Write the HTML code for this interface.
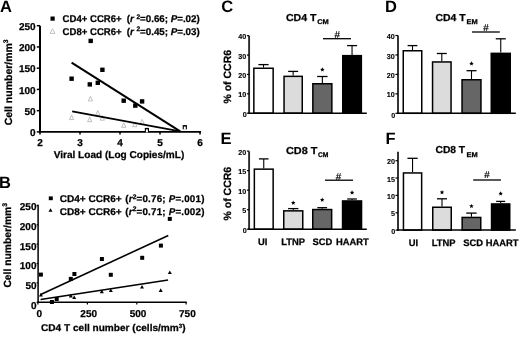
<!DOCTYPE html>
<html><head><meta charset="utf-8"><style>
html,body{margin:0;padding:0;background:#fff;}
svg{display:block;will-change:transform;}
text{font-family:"Liberation Sans",sans-serif;stroke:#000;stroke-width:0.25px;}
</style></head><body>
<svg width="520" height="337" viewBox="0 0 520 337" font-family="Liberation Sans, sans-serif" text-rendering="geometricPrecision" fill="#000">
<rect x="0" y="0" width="520" height="337" fill="#fff"/>
<text x="-0.1" y="11.6" font-size="16.5" font-weight="bold" text-anchor="start" style="stroke:none">A</text>
<text x="-1.1" y="187.8" font-size="16.5" font-weight="bold" text-anchor="start" style="stroke:none">B</text>
<text x="221.3" y="11.7" font-size="16.5" font-weight="bold" text-anchor="start" style="stroke:none">C</text>
<text x="385.0" y="11.7" font-size="16.5" font-weight="bold" text-anchor="start" style="stroke:none">D</text>
<text x="220.4" y="144.3" font-size="16.5" font-weight="bold" text-anchor="start" style="stroke:none">E</text>
<text x="385.6" y="144.2" font-size="16.5" font-weight="bold" text-anchor="start" style="stroke:none">F</text>
<line x1="40" y1="25.7" x2="40" y2="132.8" stroke="#000" stroke-width="2"/>
<line x1="36.8" y1="131.9" x2="40" y2="131.9" stroke="#000" stroke-width="1.5"/>
<text x="35.6" y="136.1" font-size="10" font-weight="bold" text-anchor="end" >0</text>
<line x1="36.8" y1="110.66" x2="40" y2="110.66" stroke="#000" stroke-width="1.5"/>
<text x="35.6" y="114.86" font-size="10" font-weight="bold" text-anchor="end" >50</text>
<line x1="36.8" y1="89.42" x2="40" y2="89.42" stroke="#000" stroke-width="1.5"/>
<text x="35.6" y="93.62" font-size="10" font-weight="bold" text-anchor="end" >100</text>
<line x1="36.8" y1="68.18" x2="40" y2="68.18" stroke="#000" stroke-width="1.5"/>
<text x="35.6" y="72.38" font-size="10" font-weight="bold" text-anchor="end" >150</text>
<line x1="36.8" y1="46.94" x2="40" y2="46.94" stroke="#000" stroke-width="1.5"/>
<text x="35.6" y="51.14" font-size="10" font-weight="bold" text-anchor="end" >200</text>
<line x1="36.8" y1="25.700000000000003" x2="40" y2="25.700000000000003" stroke="#000" stroke-width="1.5"/>
<text x="35.6" y="29.9" font-size="10" font-weight="bold" text-anchor="end" >250</text>
<line x1="39" y1="131.9" x2="201" y2="131.9" stroke="#000" stroke-width="1.8"/>
<line x1="40" y1="131.9" x2="40" y2="134.6" stroke="#000" stroke-width="1.5"/>
<text x="40" y="145.8" font-size="10" font-weight="bold" text-anchor="middle" >2</text>
<line x1="80" y1="131.9" x2="80" y2="134.6" stroke="#000" stroke-width="1.5"/>
<text x="80" y="145.8" font-size="10" font-weight="bold" text-anchor="middle" >3</text>
<line x1="120" y1="131.9" x2="120" y2="134.6" stroke="#000" stroke-width="1.5"/>
<text x="120" y="145.8" font-size="10" font-weight="bold" text-anchor="middle" >4</text>
<line x1="160" y1="131.9" x2="160" y2="134.6" stroke="#000" stroke-width="1.5"/>
<text x="160" y="145.8" font-size="10" font-weight="bold" text-anchor="middle" >5</text>
<line x1="200" y1="131.9" x2="200" y2="134.6" stroke="#000" stroke-width="1.5"/>
<text x="200" y="145.8" font-size="10" font-weight="bold" text-anchor="middle" >6</text>
<text x="53.70" y="157.7" font-size="10" font-weight="bold" textLength="130.60" lengthAdjust="spacingAndGlyphs">Viral Load (Log Copies/mL)</text>
<text transform="translate(11.6,82.3) rotate(-90)" font-size="10.4" font-weight="bold" text-anchor="middle" textLength="86" lengthAdjust="spacingAndGlyphs">Cell number/mm<tspan font-size="6.8" dy="-3.6">3</tspan></text>
<rect x="50.5" y="16.5" width="4.2" height="4.2" fill="#000"/>
<polygon points="52.5,28.8 55,33.4 50,33.4" fill="#fff" stroke="#bbb" stroke-width="0.9"/>
<text x="62.60" y="22.3" font-size="9.8" font-weight="bold" textLength="59.00" lengthAdjust="spacingAndGlyphs">CD4+ CCR6+</text>
<text x="62.60" y="34.6" font-size="9.8" font-weight="bold" textLength="59.00" lengthAdjust="spacingAndGlyphs">CD8+ CCR6+</text>
<text x="126.70" y="22.3" font-size="9.8" font-weight="bold" textLength="73.00" lengthAdjust="spacing">(<tspan font-style="italic">r</tspan> <tspan font-size="6.66" dy="-3.8">2</tspan><tspan dy="3.8">=0.66; </tspan><tspan font-style="italic">P</tspan>=.02)</text>
<text x="126.70" y="34.6" font-size="9.8" font-weight="bold" textLength="73.00" lengthAdjust="spacing">(<tspan font-style="italic">r</tspan> <tspan font-size="6.66" dy="-3.8">2</tspan><tspan dy="3.8">=0.45; </tspan><tspan font-style="italic">P</tspan>=.03)</text>
<polygon points="71.6,115.00 73.75,119.60 69.45,119.60" fill="#fff" stroke="#b8b8b8" stroke-width="0.9"/>
<polygon points="90.4,96.30 92.55,100.90 88.25,100.90" fill="#fff" stroke="#b8b8b8" stroke-width="0.9"/>
<polygon points="89.7,117.10 91.85,121.70 87.55,121.70" fill="#fff" stroke="#b8b8b8" stroke-width="0.9"/>
<polygon points="97.8,110.60 99.95,115.20 95.65,115.20" fill="#fff" stroke="#b8b8b8" stroke-width="0.9"/>
<polygon points="102.3,115.60 104.45,120.20 100.15,120.20" fill="#fff" stroke="#b8b8b8" stroke-width="0.9"/>
<polygon points="123.8,122.70 125.95,127.30 121.65,127.30" fill="#fff" stroke="#b8b8b8" stroke-width="0.9"/>
<polygon points="134.8,122.10 136.95,126.70 132.65,126.70" fill="#fff" stroke="#b8b8b8" stroke-width="0.9"/>
<polygon points="142.2,119.40 144.35,124.00 140.05,124.00" fill="#fff" stroke="#b8b8b8" stroke-width="0.9"/>
<rect x="88.5" y="38.7" width="4.4" height="4.4" fill="#000"/>
<rect x="100.2" y="67.6" width="4.4" height="4.4" fill="#000"/>
<rect x="69.4" y="76.5" width="4.4" height="4.4" fill="#000"/>
<rect x="87.6" y="82.2" width="4.4" height="4.4" fill="#000"/>
<rect x="95.6" y="80.6" width="4.4" height="4.4" fill="#000"/>
<rect x="121.5" y="98.5" width="4.4" height="4.4" fill="#000"/>
<rect x="133.1" y="103.4" width="4.4" height="4.4" fill="#000"/>
<rect x="139.9" y="99.2" width="4.4" height="4.4" fill="#000"/>
<rect x="144.8" y="127.9" width="4.2" height="4.2" fill="#000"/>
<rect x="145.9" y="129.4" width="2.0" height="3.0" fill="#fff"/>
<rect x="182.7" y="125.1" width="4.2" height="4.2" fill="#000"/>
<rect x="183.8" y="126.6" width="2.0" height="3.0" fill="#fff"/>
<line x1="71.6" y1="62.6" x2="180.2" y2="131.4" stroke="#000" stroke-width="2.0"/>
<line x1="72.2" y1="111.4" x2="180.2" y2="131.4" stroke="#000" stroke-width="1.7"/>
<line x1="38.1" y1="204.7" x2="38.1" y2="303.0" stroke="#000" stroke-width="1.5"/>
<line x1="36.6" y1="302.3" x2="38.1" y2="302.3" stroke="#000" stroke-width="1.2"/>
<text x="36.5" y="309.2" font-size="10" font-weight="bold" text-anchor="end" >0</text>
<line x1="36.6" y1="282.92" x2="38.1" y2="282.92" stroke="#000" stroke-width="1.2"/>
<text x="36.5" y="289.32" font-size="10" font-weight="bold" text-anchor="end" >50</text>
<line x1="36.6" y1="263.54" x2="38.1" y2="263.54" stroke="#000" stroke-width="1.2"/>
<text x="36.5" y="269.45" font-size="10" font-weight="bold" text-anchor="end" >100</text>
<line x1="36.6" y1="244.16000000000003" x2="38.1" y2="244.16000000000003" stroke="#000" stroke-width="1.2"/>
<text x="36.5" y="249.57" font-size="10" font-weight="bold" text-anchor="end" >150</text>
<line x1="36.6" y1="224.78000000000003" x2="38.1" y2="224.78000000000003" stroke="#000" stroke-width="1.2"/>
<text x="36.5" y="229.7" font-size="10" font-weight="bold" text-anchor="end" >200</text>
<line x1="36.6" y1="205.4" x2="38.1" y2="205.4" stroke="#000" stroke-width="1.2"/>
<text x="36.5" y="209.82" font-size="10" font-weight="bold" text-anchor="end" >250</text>
<line x1="37.4" y1="302.3" x2="186.8" y2="302.3" stroke="#000" stroke-width="1.6"/>
<line x1="37.9" y1="302.3" x2="37.9" y2="304.4" stroke="#000" stroke-width="1.2"/>
<text x="39.199999999999996" y="316.9" font-size="10" font-weight="bold" text-anchor="middle" >0</text>
<line x1="87.4" y1="302.3" x2="87.4" y2="304.4" stroke="#000" stroke-width="1.2"/>
<text x="88.7" y="316.9" font-size="10" font-weight="bold" text-anchor="middle" >250</text>
<line x1="136.8" y1="302.3" x2="136.8" y2="304.4" stroke="#000" stroke-width="1.2"/>
<text x="138.10000000000002" y="316.9" font-size="10" font-weight="bold" text-anchor="middle" >500</text>
<line x1="186.1" y1="302.3" x2="186.1" y2="304.4" stroke="#000" stroke-width="1.2"/>
<text x="187.4" y="316.9" font-size="10" font-weight="bold" text-anchor="middle" >750</text>
<text x="41.0" y="331.1" font-size="9.8" font-weight="bold" textLength="144.6" lengthAdjust="spacingAndGlyphs">CD4 T cell number (cells/mm<tspan font-size="6" dy="-3.6">3</tspan><tspan dy="3.6">)</tspan></text>
<text transform="translate(11.0,245.3) rotate(-90)" font-size="10.4" font-weight="bold" text-anchor="middle" textLength="84.6" lengthAdjust="spacingAndGlyphs">Cell number/mm<tspan font-size="6.8" dy="-3.6">3</tspan></text>
<rect x="48.8" y="196.4" width="4.0" height="3.8" fill="#000"/>
<polygon points="50.5,208.20 52.50,211.80 48.50,211.80" fill="#000"/>
<text x="59.80" y="202.4" font-size="9.8" font-weight="bold" textLength="61.90" lengthAdjust="spacingAndGlyphs">CD4+ CCR6+</text>
<text x="59.80" y="214.5" font-size="9.8" font-weight="bold" textLength="61.90" lengthAdjust="spacingAndGlyphs">CD8+ CCR6+</text>
<text x="125.20" y="202.4" font-size="9.8" font-weight="bold" textLength="79.20" lengthAdjust="spacing">(<tspan font-style="italic">r</tspan><tspan font-size="6.66" dy="-3.4">2</tspan><tspan dy="3.4">=0.76; </tspan><tspan font-style="italic">P</tspan>=.001)</text>
<text x="125.20" y="214.5" font-size="9.8" font-weight="bold" textLength="79.20" lengthAdjust="spacing">(<tspan font-style="italic">r</tspan><tspan font-size="6.66" dy="-3.4">2</tspan><tspan dy="3.4">=0.71; </tspan><tspan font-style="italic">P</tspan>=.002)</text>
<line x1="40.2" y1="294.7" x2="168.3" y2="235.5" stroke="#000" stroke-width="1.6"/>
<line x1="40.6" y1="299.5" x2="168.1" y2="280.0" stroke="#000" stroke-width="1.6"/>
<rect x="38.9" y="272.6" width="4.0" height="4.0" fill="#000"/>
<rect x="68.8" y="276.9" width="4.0" height="4.0" fill="#000"/>
<rect x="72.4" y="272.0" width="4.0" height="4.0" fill="#000"/>
<rect x="99.9" y="257.0" width="4.0" height="4.0" fill="#000"/>
<rect x="108.8" y="272.8" width="4.0" height="4.0" fill="#000"/>
<rect x="54.7" y="297.0" width="4.0" height="4.0" fill="#000"/>
<rect x="49.9" y="300.0" width="4.0" height="4.0" fill="#000"/>
<rect x="140.2" y="255.8" width="4.0" height="4.0" fill="#000"/>
<rect x="158.9" y="243.6" width="4.0" height="4.0" fill="#000"/>
<rect x="167.8" y="216.9" width="4.0" height="4.0" fill="#000"/>
<polygon points="40.9,293.00 42.90,296.60 38.90,296.60" fill="#000"/>
<polygon points="70.8,293.80 72.80,297.40 68.80,297.40" fill="#000"/>
<polygon points="74.2,295.40 76.20,299.00 72.20,299.00" fill="#000"/>
<polygon points="101.8,289.60 103.80,293.20 99.80,293.20" fill="#000"/>
<polygon points="110.8,288.40 112.80,292.00 108.80,292.00" fill="#000"/>
<polygon points="142.0,284.90 144.00,288.50 140.00,288.50" fill="#000"/>
<polygon points="160.7,288.30 162.70,291.90 158.70,291.90" fill="#000"/>
<polygon points="169.8,270.50 171.80,274.10 167.80,274.10" fill="#000"/>
<line x1="263.5" y1="67.5" x2="263.5" y2="64.6" stroke="#000" stroke-width="1.1"/>
<line x1="258.4" y1="64.6" x2="268.6" y2="64.6" stroke="#000" stroke-width="1.3"/>
<rect x="253.85" y="68.25" width="19.299999999999983" height="44.95" fill="#fff" stroke="#000" stroke-width="1.5"/>
<line x1="293.15" y1="75.6" x2="293.15" y2="71.4" stroke="#000" stroke-width="1.1"/>
<line x1="288.15" y1="71.4" x2="298.15" y2="71.4" stroke="#000" stroke-width="1.3"/>
<rect x="284.05" y="76.35" width="18.19999999999999" height="36.85000000000001" fill="#dcdcdc" stroke="#000" stroke-width="1.5"/>
<line x1="322.35" y1="83.0" x2="322.35" y2="76.5" stroke="#000" stroke-width="1.1"/>
<line x1="317.15000000000003" y1="76.5" x2="327.55" y2="76.5" stroke="#000" stroke-width="1.3"/>
<rect x="312.85" y="83.75" width="19.0" height="29.450000000000003" fill="#666666" stroke="#000" stroke-width="1.5"/>
<polygon points="322.35,67.30 323.00,68.71 324.54,68.89 323.40,69.94 323.70,71.46 322.35,70.70 321.00,71.46 321.30,69.94 320.16,68.89 321.70,68.71" fill="#000"/>
<line x1="352.05" y1="54.9" x2="352.05" y2="45.6" stroke="#000" stroke-width="1.1"/>
<line x1="347.05" y1="45.6" x2="357.05" y2="45.6" stroke="#000" stroke-width="1.3"/>
<rect x="342.75" y="55.65" width="18.600000000000023" height="57.550000000000004" fill="#000" stroke="#000" stroke-width="1.5"/>
<line x1="249.1" y1="35.7" x2="249.1" y2="114.0" stroke="#2a2a2a" stroke-width="1.9"/>
<line x1="248.2" y1="113.2" x2="366.8" y2="113.2" stroke="#000" stroke-width="1.5"/>
<line x1="246.9" y1="113.2" x2="249.1" y2="113.2" stroke="#000" stroke-width="1.2"/>
<text x="246.70000000000002" y="117.45" font-size="7.2" font-weight="bold" text-anchor="end" style="stroke-width:0.1px">0</text>
<line x1="246.9" y1="93.825" x2="249.1" y2="93.825" stroke="#000" stroke-width="1.2"/>
<text x="246.3" y="97.38" font-size="7.2" font-weight="bold" text-anchor="end" style="stroke-width:0.1px">10</text>
<line x1="246.9" y1="74.45" x2="249.1" y2="74.45" stroke="#000" stroke-width="1.2"/>
<text x="246.3" y="78.0" font-size="7.2" font-weight="bold" text-anchor="end" style="stroke-width:0.1px">20</text>
<line x1="246.9" y1="55.075" x2="249.1" y2="55.075" stroke="#000" stroke-width="1.2"/>
<text x="246.3" y="58.62" font-size="7.2" font-weight="bold" text-anchor="end" style="stroke-width:0.1px">30</text>
<line x1="246.9" y1="35.7" x2="249.1" y2="35.7" stroke="#000" stroke-width="1.2"/>
<text x="246.3" y="39.25" font-size="7.2" font-weight="bold" text-anchor="end" style="stroke-width:0.1px">40</text>
<text x="286.00" y="20.6" font-size="10.1" font-weight="bold" textLength="30.50" lengthAdjust="spacingAndGlyphs">CD4 T</text>
<text x="317.20" y="23.5" font-size="6.8" font-weight="bold" textLength="11.60" lengthAdjust="spacingAndGlyphs">CM</text>
<line x1="323" y1="38.7" x2="351" y2="38.7" stroke="#000" stroke-width="1.3"/>
<text x="337.2" y="37.8" font-size="9.8" font-weight="normal" text-anchor="middle" style="stroke-width:0.2px">#</text>
<text transform="translate(230.9,76.75) rotate(-90)" font-size="10.5" font-weight="bold" text-anchor="middle">% of CCR6</text>
<line x1="412.5" y1="50.0" x2="412.5" y2="45.6" stroke="#000" stroke-width="1.1"/>
<line x1="407.6" y1="45.6" x2="417.4" y2="45.6" stroke="#000" stroke-width="1.3"/>
<rect x="403.25" y="50.75" width="18.5" height="62.55" fill="#fff" stroke="#000" stroke-width="1.5"/>
<line x1="441.8" y1="61.2" x2="441.8" y2="53.5" stroke="#000" stroke-width="1.1"/>
<line x1="436.8" y1="53.5" x2="446.8" y2="53.5" stroke="#000" stroke-width="1.3"/>
<rect x="432.55" y="61.95" width="18.5" height="51.349999999999994" fill="#dcdcdc" stroke="#000" stroke-width="1.5"/>
<line x1="471.5" y1="79.0" x2="471.5" y2="70.7" stroke="#000" stroke-width="1.1"/>
<line x1="466.5" y1="70.7" x2="476.5" y2="70.7" stroke="#000" stroke-width="1.3"/>
<rect x="462.05" y="79.75" width="18.899999999999977" height="33.55" fill="#666666" stroke="#000" stroke-width="1.5"/>
<polygon points="471.50,61.30 472.15,62.71 473.69,62.89 472.55,63.94 472.85,65.46 471.50,64.70 470.15,65.46 470.45,63.94 469.31,62.89 470.85,62.71" fill="#000"/>
<line x1="500.75" y1="52.6" x2="500.75" y2="38.8" stroke="#000" stroke-width="1.1"/>
<line x1="495.75" y1="38.8" x2="505.75" y2="38.8" stroke="#000" stroke-width="1.3"/>
<rect x="491.25" y="53.35" width="19.0" height="59.949999999999996" fill="#000" stroke="#000" stroke-width="1.5"/>
<line x1="398.0" y1="35.4" x2="398.0" y2="114.1" stroke="#2a2a2a" stroke-width="1.9"/>
<line x1="397.1" y1="113.3" x2="515.8" y2="113.3" stroke="#000" stroke-width="1.5"/>
<line x1="395.4" y1="113.3" x2="398.0" y2="113.3" stroke="#000" stroke-width="1.2"/>
<text x="395.2" y="117.55" font-size="7.2" font-weight="bold" text-anchor="end" style="stroke-width:0.1px">0</text>
<line x1="395.4" y1="93.85" x2="398.0" y2="93.85" stroke="#000" stroke-width="1.2"/>
<text x="394.8" y="97.4" font-size="7.2" font-weight="bold" text-anchor="end" style="stroke-width:0.1px">10</text>
<line x1="395.4" y1="74.4" x2="398.0" y2="74.4" stroke="#000" stroke-width="1.2"/>
<text x="394.8" y="77.95" font-size="7.2" font-weight="bold" text-anchor="end" style="stroke-width:0.1px">20</text>
<line x1="395.4" y1="54.949999999999996" x2="398.0" y2="54.949999999999996" stroke="#000" stroke-width="1.2"/>
<text x="394.8" y="58.5" font-size="7.2" font-weight="bold" text-anchor="end" style="stroke-width:0.1px">30</text>
<line x1="395.4" y1="35.5" x2="398.0" y2="35.5" stroke="#000" stroke-width="1.2"/>
<text x="394.8" y="39.05" font-size="7.2" font-weight="bold" text-anchor="end" style="stroke-width:0.1px">40</text>
<text x="435.50" y="20.8" font-size="10.1" font-weight="bold" textLength="30.20" lengthAdjust="spacingAndGlyphs">CD4 T</text>
<text x="466.60" y="23.7" font-size="6.8" font-weight="bold" textLength="11.20" lengthAdjust="spacingAndGlyphs">EM</text>
<line x1="472" y1="32.0" x2="499.8" y2="32.0" stroke="#000" stroke-width="1.3"/>
<text x="486.0" y="31.3" font-size="9.8" font-weight="normal" text-anchor="middle" style="stroke-width:0.2px">#</text>
<line x1="263.75" y1="168.4" x2="263.75" y2="158.9" stroke="#000" stroke-width="1.1"/>
<line x1="258.95" y1="158.9" x2="268.55" y2="158.9" stroke="#000" stroke-width="1.3"/>
<rect x="254.35" y="169.15" width="18.799999999999983" height="60.04999999999998" fill="#fff" stroke="#000" stroke-width="1.5"/>
<line x1="293.25" y1="210.1" x2="293.25" y2="208.6" stroke="#000" stroke-width="1.1"/>
<line x1="288.05" y1="208.6" x2="298.45" y2="208.6" stroke="#000" stroke-width="1.3"/>
<rect x="283.75" y="210.85" width="19.0" height="18.349999999999994" fill="#dcdcdc" stroke="#000" stroke-width="1.5"/>
<polygon points="293.25,200.50 293.90,201.91 295.44,202.09 294.30,203.14 294.60,204.66 293.25,203.90 291.90,204.66 292.20,203.14 291.06,202.09 292.60,201.91" fill="#000"/>
<line x1="322.2" y1="208.8" x2="322.2" y2="207.7" stroke="#000" stroke-width="1.1"/>
<line x1="317.3" y1="207.7" x2="327.09999999999997" y2="207.7" stroke="#000" stroke-width="1.3"/>
<rect x="312.75" y="209.55" width="18.899999999999977" height="19.649999999999977" fill="#666666" stroke="#000" stroke-width="1.5"/>
<polygon points="322.20,197.60 322.85,199.01 324.39,199.19 323.25,200.24 323.55,201.76 322.20,201.00 320.85,201.76 321.15,200.24 320.01,199.19 321.55,199.01" fill="#000"/>
<line x1="352.05" y1="200.2" x2="352.05" y2="199.0" stroke="#000" stroke-width="1.1"/>
<line x1="347.25" y1="199.0" x2="356.85" y2="199.0" stroke="#000" stroke-width="1.3"/>
<rect x="342.55" y="200.95" width="19.0" height="28.25" fill="#000" stroke="#000" stroke-width="1.5"/>
<polygon points="352.05,190.30 352.70,191.71 354.24,191.89 353.10,192.94 353.40,194.46 352.05,193.70 350.70,194.46 351.00,192.94 349.86,191.89 351.40,191.71" fill="#000"/>
<line x1="249.1" y1="151.3" x2="249.1" y2="230.0" stroke="#2a2a2a" stroke-width="1.9"/>
<line x1="248.2" y1="229.2" x2="366.8" y2="229.2" stroke="#000" stroke-width="1.5"/>
<line x1="246.9" y1="229.2" x2="249.1" y2="229.2" stroke="#000" stroke-width="1.2"/>
<text x="246.70000000000002" y="233.45" font-size="7.2" font-weight="bold" text-anchor="end" style="stroke-width:0.1px">0</text>
<line x1="246.9" y1="209.67499999999998" x2="249.1" y2="209.67499999999998" stroke="#000" stroke-width="1.2"/>
<text x="246.3" y="213.22" font-size="7.2" font-weight="bold" text-anchor="end" style="stroke-width:0.1px">5</text>
<line x1="246.9" y1="190.14999999999998" x2="249.1" y2="190.14999999999998" stroke="#000" stroke-width="1.2"/>
<text x="246.3" y="193.7" font-size="7.2" font-weight="bold" text-anchor="end" style="stroke-width:0.1px">10</text>
<line x1="246.9" y1="170.625" x2="249.1" y2="170.625" stroke="#000" stroke-width="1.2"/>
<text x="246.3" y="174.18" font-size="7.2" font-weight="bold" text-anchor="end" style="stroke-width:0.1px">15</text>
<line x1="246.9" y1="151.1" x2="249.1" y2="151.1" stroke="#000" stroke-width="1.2"/>
<text x="246.3" y="154.65" font-size="7.2" font-weight="bold" text-anchor="end" style="stroke-width:0.1px">20</text>
<text x="286.00" y="153.5" font-size="10.1" font-weight="bold" textLength="31.40" lengthAdjust="spacingAndGlyphs">CD8 T</text>
<text x="318.00" y="156.6" font-size="6.8" font-weight="bold" textLength="10.50" lengthAdjust="spacingAndGlyphs">CM</text>
<line x1="325" y1="180.2" x2="353" y2="180.2" stroke="#000" stroke-width="1.3"/>
<text x="338.5" y="180.0" font-size="9.8" font-weight="normal" text-anchor="middle" style="stroke-width:0.2px">#</text>
<text transform="translate(230.7,193.7) rotate(-90)" font-size="10.5" font-weight="bold" text-anchor="middle">% of CCR6</text>
<text x="262.6" y="244.7" font-size="9.4" font-weight="bold" text-anchor="middle" >UI</text>
<text x="293.2" y="244.7" font-size="9.4" font-weight="bold" text-anchor="middle" >LTNP</text>
<text x="322.3" y="244.7" font-size="9.4" font-weight="bold" text-anchor="middle" >SCD</text>
<text x="352.4" y="244.7" font-size="9.4" font-weight="bold" text-anchor="middle" >HAART</text>
<line x1="412.54999999999995" y1="172.2" x2="412.54999999999995" y2="158.3" stroke="#000" stroke-width="1.1"/>
<line x1="407.44999999999993" y1="158.3" x2="417.65" y2="158.3" stroke="#000" stroke-width="1.3"/>
<rect x="403.45" y="172.95" width="18.19999999999999" height="57.150000000000006" fill="#fff" stroke="#000" stroke-width="1.5"/>
<line x1="442.0" y1="206.5" x2="442.0" y2="198.8" stroke="#000" stroke-width="1.1"/>
<line x1="437.0" y1="198.8" x2="447.0" y2="198.8" stroke="#000" stroke-width="1.3"/>
<rect x="432.75" y="207.25" width="18.5" height="22.849999999999994" fill="#dcdcdc" stroke="#000" stroke-width="1.5"/>
<polygon points="442.00,190.00 442.65,191.41 444.19,191.59 443.05,192.64 443.35,194.16 442.00,193.40 440.65,194.16 440.95,192.64 439.81,191.59 441.35,191.41" fill="#000"/>
<line x1="471.45" y1="216.7" x2="471.45" y2="213.1" stroke="#000" stroke-width="1.1"/>
<line x1="466.25" y1="213.1" x2="476.65" y2="213.1" stroke="#000" stroke-width="1.3"/>
<rect x="462.15" y="217.45" width="18.600000000000023" height="12.650000000000006" fill="#666666" stroke="#000" stroke-width="1.5"/>
<polygon points="471.45,203.90 472.10,205.31 473.64,205.49 472.50,206.54 472.80,208.06 471.45,207.30 470.10,208.06 470.40,206.54 469.26,205.49 470.80,205.31" fill="#000"/>
<line x1="500.65" y1="203.2" x2="500.65" y2="201.4" stroke="#000" stroke-width="1.1"/>
<line x1="496.15" y1="201.4" x2="505.15" y2="201.4" stroke="#000" stroke-width="1.3"/>
<rect x="491.55" y="203.95" width="18.19999999999999" height="26.150000000000006" fill="#000" stroke="#000" stroke-width="1.5"/>
<polygon points="500.65,191.30 501.30,192.71 502.84,192.89 501.70,193.94 502.00,195.46 500.65,194.70 499.30,195.46 499.60,193.94 498.46,192.89 500.00,192.71" fill="#000"/>
<line x1="398.0" y1="151.7" x2="398.0" y2="230.9" stroke="#2a2a2a" stroke-width="1.9"/>
<line x1="397.1" y1="230.1" x2="515.8" y2="230.1" stroke="#000" stroke-width="1.5"/>
<line x1="395.5" y1="230.1" x2="398.0" y2="230.1" stroke="#000" stroke-width="1.2"/>
<text x="395.3" y="234.35" font-size="7.2" font-weight="bold" text-anchor="end" style="stroke-width:0.1px">0</text>
<line x1="395.5" y1="212.75" x2="398.0" y2="212.75" stroke="#000" stroke-width="1.2"/>
<text x="394.90000000000003" y="216.3" font-size="7.2" font-weight="bold" text-anchor="end" style="stroke-width:0.1px">5</text>
<line x1="395.5" y1="195.39999999999998" x2="398.0" y2="195.39999999999998" stroke="#000" stroke-width="1.2"/>
<text x="394.90000000000003" y="198.95" font-size="7.2" font-weight="bold" text-anchor="end" style="stroke-width:0.1px">10</text>
<line x1="395.5" y1="178.04999999999998" x2="398.0" y2="178.04999999999998" stroke="#000" stroke-width="1.2"/>
<text x="394.90000000000003" y="181.6" font-size="7.2" font-weight="bold" text-anchor="end" style="stroke-width:0.1px">15</text>
<line x1="395.5" y1="160.7" x2="398.0" y2="160.7" stroke="#000" stroke-width="1.2"/>
<text x="394.90000000000003" y="164.25" font-size="7.2" font-weight="bold" text-anchor="end" style="stroke-width:0.1px">20</text>
<text x="435.50" y="153.2" font-size="10.1" font-weight="bold" textLength="29.60" lengthAdjust="spacingAndGlyphs">CD8 T</text>
<text x="466.60" y="156.5" font-size="6.8" font-weight="bold" textLength="11.20" lengthAdjust="spacingAndGlyphs">EM</text>
<line x1="473.2" y1="180.0" x2="501" y2="180.0" stroke="#000" stroke-width="1.3"/>
<text x="487.0" y="177.6" font-size="9.8" font-weight="normal" text-anchor="middle" style="stroke-width:0.2px">#</text>
<text x="413.4" y="246.0" font-size="9.4" font-weight="bold" text-anchor="middle" >UI</text>
<text x="443.7" y="246.0" font-size="9.4" font-weight="bold" text-anchor="middle" >LTNP</text>
<text x="473.1" y="246.0" font-size="9.4" font-weight="bold" text-anchor="middle" >SCD</text>
<text x="502.2" y="246.0" font-size="9.4" font-weight="bold" text-anchor="middle" >HAART</text>
</svg>
</body></html>
